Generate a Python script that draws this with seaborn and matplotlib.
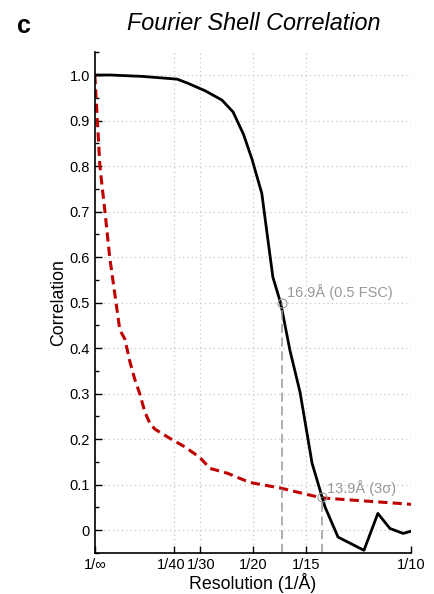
import numpy as np
import pandas as pd
import matplotlib
matplotlib.use("Agg")
import matplotlib.pyplot as plt
import matplotlib.transforms as mtransforms
import seaborn as sns

# Frequências (1/Å) e correlações
freq_fsc = [0, 0.005, 0.015, 0.026, 0.0294, 0.035, 0.0402, 0.0437, 0.047, 0.0497,
            0.0528, 0.0545, 0.0563, 0.0588, 0.0617, 0.0649, 0.0687, 0.0728,
            0.0769, 0.0851, 0.0895, 0.0933, 0.0975, 0.1]
fsc = [1.0, 1.0, 0.997, 0.991, 0.982, 0.965, 0.945, 0.919, 0.87, 0.815,
       0.74, 0.65, 0.556, 0.498, 0.395, 0.303, 0.147, 0.051,
       -0.015, -0.044, 0.037, 0.004, -0.007, -0.002]

freq_sigma = [0, 0.0016, 0.0032, 0.0047, 0.0063, 0.0079, 0.0095, 0.0111, 0.0127,
              0.0142, 0.0158, 0.0174, 0.019, 0.0237, 0.0285, 0.0332, 0.0364,
              0.042, 0.049, 0.0585, 0.0639, 0.0718, 0.08, 0.09, 0.1]
sigma3 = [1.0, 0.80, 0.70, 0.60, 0.52, 0.44, 0.42, 0.37, 0.33,
          0.30, 0.26, 0.235, 0.222, 0.202, 0.183, 0.16, 0.136,
          0.125, 0.105, 0.093, 0.084, 0.071, 0.067, 0.062, 0.057]

xtick_vals = [0, 1/40, 1/30, 1/20, 1/15, 1/10]
xtick_labels = ["1/\u221e", "1/40", "1/30", "1/20", "1/15", "1/10"]

res_05 = 16.9
res_3s = 13.9
y_3s = 0.072

sns.set_style("ticks")
plt.rcParams['font.family'] = ['Liberation Sans', 'DejaVu Sans']
plt.rcParams['text.color'] = 'black'
plt.rcParams['axes.labelcolor'] = 'black'
plt.rcParams['xtick.color'] = 'black'
plt.rcParams['ytick.color'] = 'black'

df_fsc = pd.DataFrame({"freq": freq_fsc, "corr": fsc})
df_sig = pd.DataFrame({"freq": freq_sigma, "corr": sigma3})

fig = plt.figure(figsize=(4.35, 5.94), dpi=100)
ax = fig.add_axes([0.218, 0.069, 0.727, 0.843])

sns.lineplot(data=df_sig, x="freq", y="corr", sort=False, estimator=None,
             color="#c00000", linewidth=2.2, linestyle=(0, (3.0, 1.7)), ax=ax)
sns.lineplot(data=df_fsc, x="freq", y="corr", sort=False, estimator=None,
             color="black", linewidth=2.0, ax=ax)

# marcações de resolução
cinza = "#999999"
for res, yv, txt, dy in [(res_05, 0.5, "16.9\u00c5 (0.5 FSC)", 0.013),
                         (res_3s, y_3s, "13.9\u00c5 (3\u03c3)", 0.009)]:
    ax.plot([1/res, 1/res], [-0.05, yv], color=cinza, lw=1.1, ls=(0, (6, 3)))
    ax.plot(1/res, yv, 'o', mfc='none', mec=cinza, ms=6.5, mew=0.8)
    ax.text(1/res + 0.0016, yv + dy, txt, color=cinza, fontsize=10.5,
            va='baseline', ha='left')

ax.set_xlim(0, 0.1)
ax.set_ylim(-0.05, 1.05)
ax.set_xticks(xtick_vals)
ax.set_xticklabels(xtick_labels)
ax.set_yticks(np.arange(0, 1.01, 0.1))
ax.set_yticklabels(["0"] + [f"{v:.1f}" for v in np.arange(0.1, 1.01, 0.1)])
ax.set_yticks(np.arange(-0.05, 1.06, 0.1), minor=True)
ax.tick_params(direction='in', labelsize=10.5, length=5, width=1)
ax.tick_params(which='minor', direction='in', length=3, width=1)
ax.grid(True, which='major', color='#c8c8c8', linestyle=(0, (1, 2.5)), linewidth=0.9)

# afasta um pouco 1/40 e 1/30
labs = ax.get_xticklabels()
labs[1].set_transform(labs[1].get_transform() + mtransforms.ScaledTranslation(-3/100, 0, fig.dpi_scale_trans))
labs[2].set_transform(labs[2].get_transform() + mtransforms.ScaledTranslation(1/100, 0, fig.dpi_scale_trans))

for s in ['top', 'right']:
    ax.spines[s].set_visible(False)
for s in ['left', 'bottom']:
    ax.spines[s].set_linewidth(1.2)
    ax.spines[s].set_color('black')

ax.set_xlabel("Resolution (1/\u00c5)", fontsize=12.8, labelpad=1)
ax.set_ylabel("Correlation", fontsize=12.8, labelpad=2)

fig.text(0.583, 1 - 30/594, "Fourier Shell Correlation", fontsize=16.8, style='italic',
         ha='center', va='baseline')
fig.text(0.056, 1 - 33/594, "c", fontsize=18, fontweight='bold', ha='center', va='baseline')

fig.savefig("out.png", dpi=100)
